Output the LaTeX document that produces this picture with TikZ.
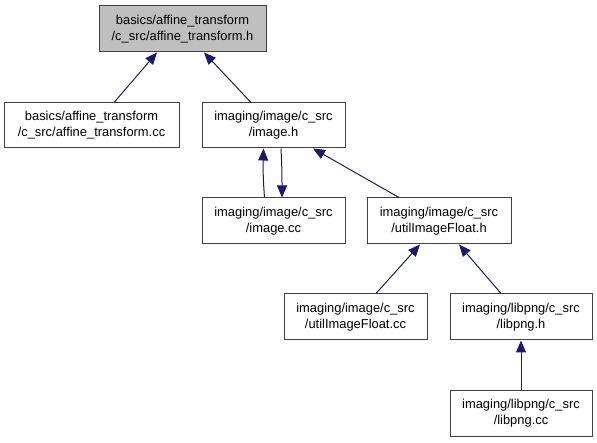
\documentclass[tikz,border=0pt]{standalone}
\usepackage{fontspec}
\setmainfont{Liberation Sans}
\usetikzlibrary{arrows.meta}
\definecolor{edgecol}{HTML}{191970}
\definecolor{boxline}{HTML}{404040}
\definecolor{topfill}{HTML}{BFBFBF}
\tikzset{
  box/.style={draw=boxline, line width=1pt, fill=white, align=center, inner sep=0pt,
    font=\fontsize{12.9}{16}\selectfont, minimum height=46pt},
  edge/.style={draw=edgecol, line width=1pt, -{Triangle[length=12pt,width=10pt]}},
}
\begin{document}
\begin{tikzpicture}[x=1pt,y=-1pt]
\useasboundingbox (0,0) rectangle (597,443);
\node[box, fill=topfill, minimum width=167pt] (top) at (182.5,29) {basics/affine\_transform\\/c\_src/affine\_transform.h};
\node[box, minimum width=175pt, minimum height=45pt] (affcc) at (91.5,125.5) {basics/affine\_transform\\/c\_src/affine\_transform.cc};
\node[box, minimum width=143pt, minimum height=45pt] (imgh) at (273.5,125.5) {imaging/image/c\_src\\/image.h};
\node[box, minimum width=143pt] (imgcc) at (273.5,221) {imaging/image/c\_src\\/image.cc};
\node[box, minimum width=144pt] (utilh) at (439,221) {imaging/image/c\_src\\/utilImageFloat.h};
\node[box, minimum width=143pt] (utilcc) at (355.5,317) {imaging/image/c\_src\\/utilImageFloat.cc};
\node[box, minimum width=142pt] (pngh) at (521,317) {imaging/libpng/c\_src\\/libpng.h};
\node[box, minimum width=142pt, minimum height=45pt] (pngcc) at (521,413.5) {imaging/libpng/c\_src\\/libpng.cc};

\draw[edge] ([xshift=22.5pt]affcc.north) -- ([xshift=-25.5pt]top.south);
\draw[edge] ([xshift=-22.5pt]imgh.north) -- ([xshift=21.5pt]top.south);
\draw[edge] ([xshift=-9pt]imgcc.north) .. controls ([xshift=-10.5pt,yshift=20pt]imgcc.north) and ([xshift=-10.5pt,yshift=-20pt]imgh.south) .. ([xshift=-10pt]imgh.south);
\draw[edge] ([xshift=7.5pt]imgh.south) .. controls ([xshift=8.5pt,yshift=-20pt]imgh.south) and ([xshift=8.5pt,yshift=20pt]imgcc.north) .. ([xshift=8.5pt]imgcc.north);
\draw[edge] ([xshift=-40pt]utilh.north) -- ([xshift=39.5pt]imgh.south);
\draw[edge] ([xshift=20.5pt]utilcc.north) -- ([xshift=-19pt]utilh.south);
\draw[edge] ([xshift=-20pt]pngh.north) -- ([xshift=20pt]utilh.south);
\draw[edge] (pngcc.north) -- (pngh.south);
\end{tikzpicture}
\end{document}
